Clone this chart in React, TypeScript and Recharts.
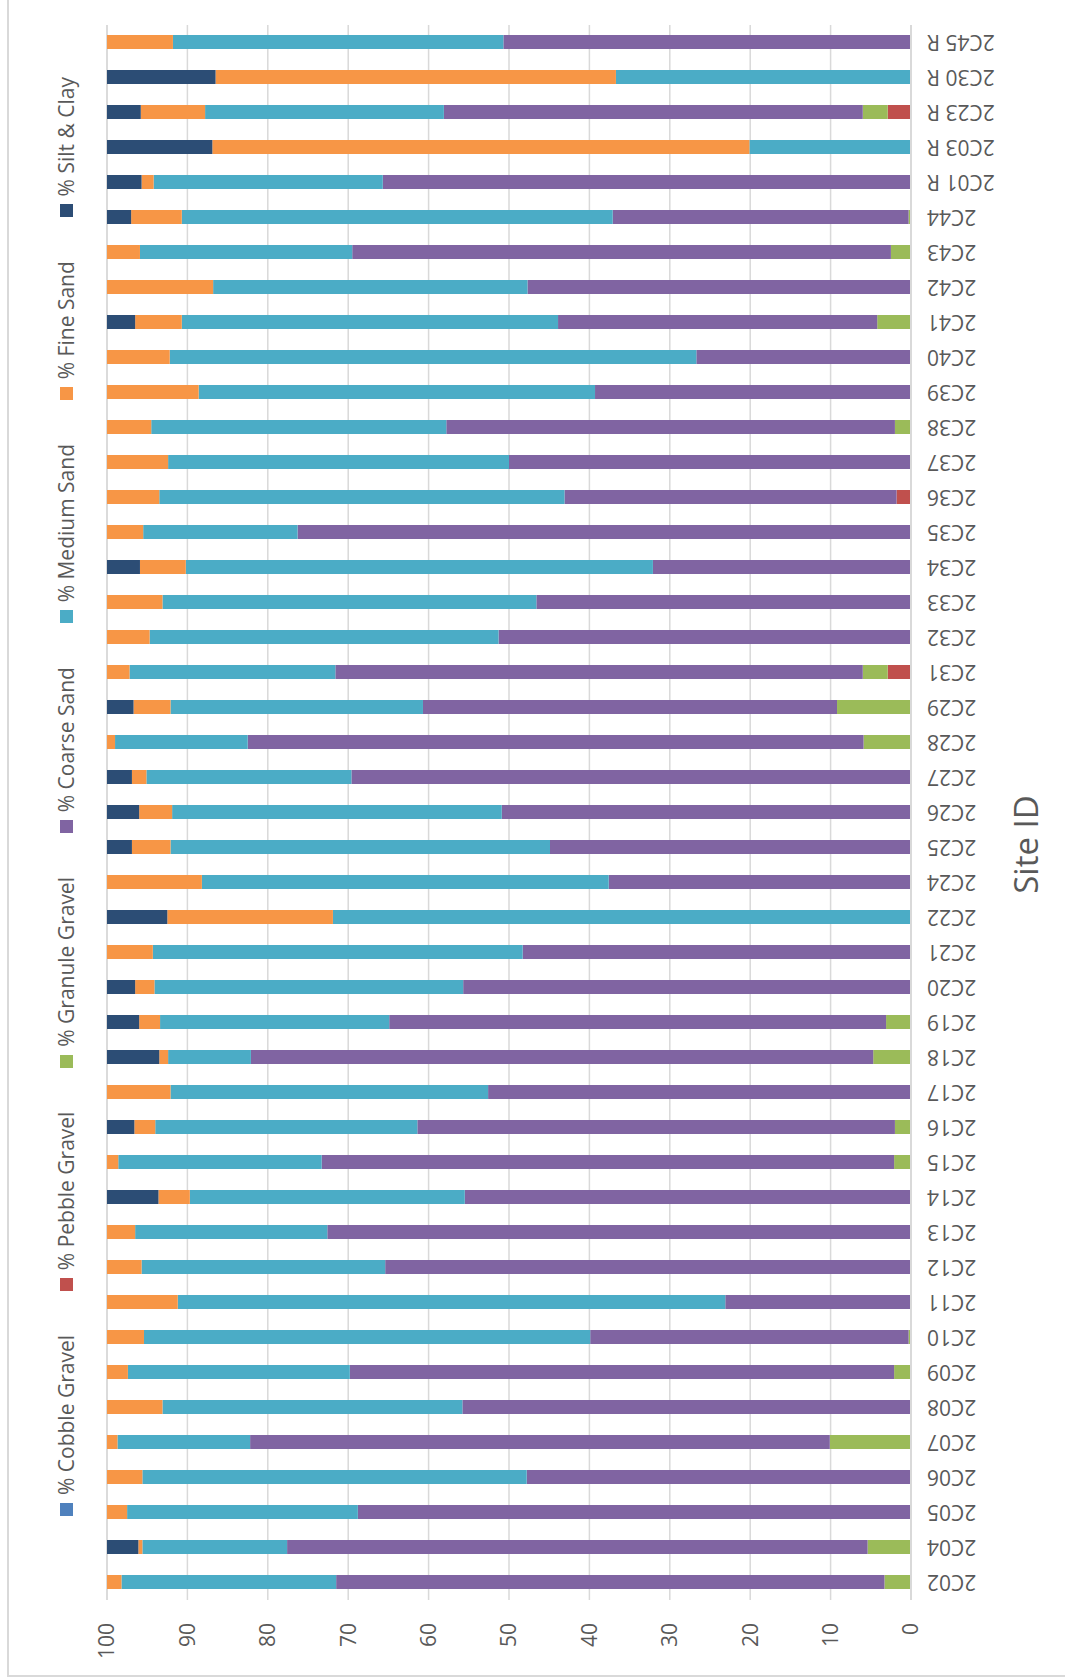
import React from "react";
import { BarChart, Bar, XAxis, YAxis, CartesianGrid, Legend, Label } from "recharts";

// Site IDs, left to right in the unrotated column chart
const sites = [
  "2C02", "2C04", "2C05", "2C06", "2C07", "2C08", "2C09", "2C10", "2C11", "2C12",
  "2C13", "2C14", "2C15", "2C16", "2C17", "2C18", "2C19", "2C20", "2C21", "2C22",
  "2C24", "2C25", "2C26", "2C27", "2C28", "2C29", "2C31", "2C32", "2C33", "2C34",
  "2C35", "2C36", "2C37", "2C38", "2C39", "2C40", "2C41", "2C42", "2C43", "2C44",
  "2C01 R", "2C03 R", "2C23 R", "2C30 R", "2C45 R",
];

const seriesNames = [
  "% Cobble Gravel",
  "% Pebble Gravel",
  "% Granule Gravel",
  "% Coarse Sand",
  "% Medium Sand",
  "% Fine Sand",
  "% Silt & Clay",
];

const cobbleGravel = sites.map(() => 0);
const pebbleGravel = [
  0, 0, 0, 0, 0, 0, 0, 0, 0, 0,
  0, 0, 0, 0, 0, 0, 0, 0, 0, 0,
  0, 0, 0, 0, 0, 0, 2.9, 0, 0, 0,
  0, 1.8, 0, 0, 0, 0, 0, 0, 0, 0,
  0, 0, 2.9, 0, 0,
];
const granuleGravel = [
  3.3, 5.4, 0, 0, 10.1, 0, 2.1, 0.3, 0, 0,
  0, 0, 2.1, 2.0, 0, 4.7, 3.1, 0, 0, 0,
  0, 0, 0, 0, 5.9, 9.2, 3.1, 0, 0, 0,
  0, 0, 0, 2.0, 0, 0, 4.2, 0, 2.5, 0.3,
  0, 0, 3.1, 0, 0,
];
const coarseSand = [
  68.2, 72.2, 68.8, 47.8, 72.1, 55.8, 67.7, 39.6, 23.1, 65.4,
  72.6, 55.5, 71.2, 59.4, 52.6, 77.4, 61.8, 55.7, 48.3, 0,
  37.6, 44.9, 50.9, 69.6, 76.6, 51.5, 65.6, 51.3, 46.6, 32.1,
  76.3, 41.3, 50.0, 55.8, 39.3, 26.7, 39.7, 47.7, 67.0, 36.8,
  65.7, 0, 52.1, 0, 50.7,
];
const mediumSand = [
  26.7, 18.0, 28.7, 47.8, 16.5, 37.3, 27.6, 55.5, 68.1, 30.3,
  23.9, 34.2, 25.3, 32.6, 39.5, 10.3, 28.5, 38.4, 46.0, 71.9,
  50.6, 47.2, 41.0, 25.5, 16.5, 31.4, 25.6, 43.4, 46.5, 58.1,
  19.2, 50.4, 42.4, 36.7, 49.3, 65.5, 46.8, 39.1, 26.4, 53.6,
  28.5, 20.1, 29.7, 36.7, 41.1,
];
const fineSand = [
  1.8, 0.5, 2.5, 4.4, 1.3, 6.9, 2.6, 4.6, 8.8, 4.3,
  3.5, 3.9, 1.4, 2.6, 7.9, 1.1, 2.6, 2.4, 5.7, 20.6,
  11.8, 4.8, 4.1, 1.8, 1.0, 4.6, 2.8, 5.3, 6.9, 5.7,
  4.5, 6.5, 7.6, 5.5, 11.4, 7.8, 5.8, 13.2, 4.1, 6.3,
  1.5, 66.8, 8.0, 49.8, 8.2,
];
const siltClay = [
  0, 3.9, 0, 0, 0, 0, 0, 0, 0, 0,
  0, 6.4, 0, 3.4, 0, 6.5, 4.0, 3.5, 0, 7.5,
  0, 3.1, 4.0, 3.1, 0, 3.3, 0, 0, 0, 4.1,
  0, 0, 0, 0, 0, 0, 3.5, 0, 0, 3.0,
  4.3, 13.1, 4.2, 13.5, 0,
];

const yTicks = [0, 10, 20, 30, 40, 50, 60, 70, 80, 90, 100];

const data = sites.map((site, i) => ({
  site,
  cobble: cobbleGravel[i],
  pebble: pebbleGravel[i],
  granule: granuleGravel[i],
  coarse: coarseSand[i],
  medium: mediumSand[i],
  fine: fineSand[i],
  silt: siltClay[i],
}));

const FONT = "'Open Sans', 'DejaVu Sans', sans-serif";
const TEXT = "#595959";
const GRID = "#d9d9d9";

// chart is laid out as an ordinary column chart, then the box is turned 90° left
const W = 1679;
const H = 1065;

function SiteTick({ x, y, payload }: any) {
  return (
    <text
      x={x}
      y={y}
      transform={`rotate(-90, ${x}, ${y})`}
      textAnchor="end"
      dy="0.35em"
      fill={TEXT}
      fontSize={21}
      fontFamily={FONT}
    >
      {payload.value}
    </text>
  );
}

function LegendRow({ payload }: any) {
  // keep series order (recharts sorts legend items by name otherwise)
  const items = [...(payload || [])].sort(
    (a: any, b: any) => seriesNames.indexOf(a.value) - seriesNames.indexOf(b.value)
  );
  return (
    <div
      style={{
        display: "flex",
        justifyContent: "space-between",
        width: 1439,
        fontFamily: FONT,
        fontSize: 21,
        lineHeight: "28px",
        color: TEXT,
      }}
    >
      {items.map((p: any) => (
        <div key={p.value} style={{ display: "flex", alignItems: "center", whiteSpace: "nowrap" }}>
          <span style={{ width: 13, height: 13, background: p.color, marginRight: 8, display: "inline-block" }} />
          {p.value}
        </div>
      ))}
    </div>
  );
}

function SiteTitle({ viewBox }: any) {
  const vb = viewBox || { x: 0, y: 0, width: 0, height: 0 };
  return (
    <text
      x={vb.x + vb.width / 2 - 32}
      y={vb.y + vb.height + 14}
      textAnchor="middle"
      dominantBaseline="central"
      fill={TEXT}
      fontSize={33}
      fontFamily={FONT}
    >
      Site ID
    </text>
  );
}

export default function App() {
  return (
    <>
      <style>{`html,body{margin:0;overflow:hidden;background:#fff}`}</style>
      <div
        style={{
          position: "absolute",
          left: 0,
          top: 0,
          width: W,
          height: H,
          overflow: "hidden",
          background: "#fff",
          transformOrigin: "0 0",
          transform: `translateY(${W}px) rotate(-90deg)`,
        }}
      >
        <div
          style={{
            position: "absolute",
            left: 2,
            top: 7,
            width: W + 40,
            height: H + 40,
            border: `2px solid ${GRID}`,
          }}
        />
        <div style={{ position: "absolute", left: 0, top: 0 }}>
          <BarChart
            width={W}
            height={H}
            data={data}
            margin={{ top: 107, right: 25, bottom: 54, left: 0 }}
            barSize={14}
          >
            <CartesianGrid vertical={false} stroke={GRID} strokeWidth={1.5} />
            <XAxis
              dataKey="site"
              interval={0}
              height={100}
              tickLine={false}
              tickSize={0}
              tickMargin={16}
              axisLine={{ stroke: GRID, strokeWidth: 2 }}
              tick={<SiteTick />}
            >
              <Label content={<SiteTitle />} />
            </XAxis>
            <YAxis
              width={79}
              domain={[0, 100]}
              ticks={yTicks}
              interval={0}
              axisLine={false}
              tickLine={false}
              tickSize={0}
              tickMargin={23}
              tick={{ fill: TEXT, fontSize: 21, fontFamily: FONT }}
            />
            <Legend
              layout="horizontal"
              verticalAlign="middle"
              align="center"
              wrapperStyle={{ left: 163, top: 52, width: 1439 }}
              content={<LegendRow />}
            />
            <Bar dataKey="cobble" name={seriesNames[0]} stackId="a" fill="#4f81bd" isAnimationActive={false} />
            <Bar dataKey="pebble" name={seriesNames[1]} stackId="a" fill="#c0504d" isAnimationActive={false} />
            <Bar dataKey="granule" name={seriesNames[2]} stackId="a" fill="#9bbb59" isAnimationActive={false} />
            <Bar dataKey="coarse" name={seriesNames[3]} stackId="a" fill="#8064a2" isAnimationActive={false} />
            <Bar dataKey="medium" name={seriesNames[4]} stackId="a" fill="#4bacc6" isAnimationActive={false} />
            <Bar dataKey="fine" name={seriesNames[5]} stackId="a" fill="#f79646" isAnimationActive={false} />
            <Bar dataKey="silt" name={seriesNames[6]} stackId="a" fill="#2c4d75" isAnimationActive={false} />
          </BarChart>
        </div>
      </div>
    </>
  );
}
